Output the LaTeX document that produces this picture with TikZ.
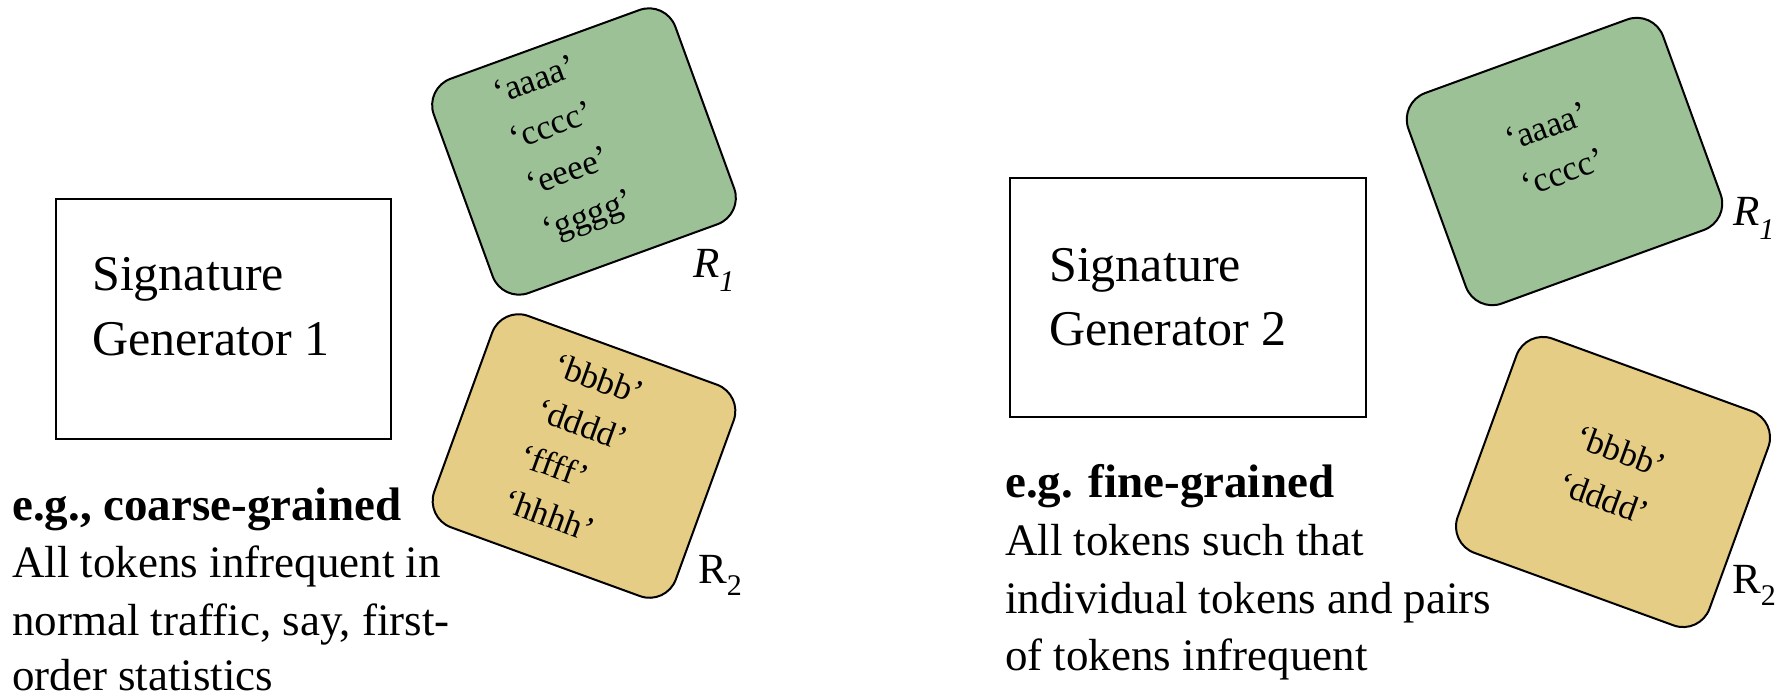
\documentclass[tikz,border=0pt]{standalone}
\usepackage{fontspec}
\setmainfont{Liberation Serif}
\definecolor{setgreen}{RGB}{157,193,151}
\definecolor{setyellow}{RGB}{230,205,133}
\begin{document}
\begin{tikzpicture}[x=1pt,y=-1pt,
  genbox/.style={draw=black, line width=2.5pt, inner sep=0},
  setbox/.style={draw=black, line width=2pt, rounded corners=28pt, inner sep=0},
  % multi-line token lists: the base anchor sits on the last line
  tok/.style={anchor=base west, inner sep=0, align=left, font=\fontsize{35}{#1}\selectfont},
  gentxt/.style={anchor=base west, inner sep=0, font=\fontsize{50}{60}\selectfont},
  body/.style={anchor=base west, inner sep=0, font=\fontsize{45}{54}\selectfont},
  bodyb/.style={anchor=base west, inner sep=0, font=\fontsize{47}{54}\selectfont\bfseries},
  rlab/.style={anchor=base west, inner sep=0, font=\fontsize{43}{50}\selectfont}
]
\useasboundingbox (0,0) rectangle (1789,697);

% ---------- left: coarse-grained generator ----------
\node[genbox, minimum width=335pt, minimum height=240pt] (gen1) at (223.5,319) {};
\node[gentxt] (gen1a) at (92,290) {Signature};
\node[gentxt] (gen1b) at (92,355) {Generator 1};

\node[setbox, fill=setgreen, minimum width=257pt, minimum height=228pt, rotate=20] (r1a) at (584,151.5) {};
\node[tok=48.5, rotate=20] (r1at) at (547.8,241.7) {‘aaaa’\\‘cccc’\\‘eeee’\\‘gggg’};
\node[rlab] (lr1a) at (693,277) {\itshape R\raisebox{-14pt}{\fontsize{30}{30}\selectfont 1}};

\node[setbox, fill=setyellow, minimum width=257pt, minimum height=225pt, rotate=-20] (r2a) at (584,456) {};
\node[tok=48.5, rotate=-20] (r2at) at (501.2,510.7) {‘bbbb’\\‘dddd’\\‘ffff’\\‘hhhh’};
\node[rlab] (lr2a) at (698,583) {R\raisebox{-12pt}{\fontsize{30}{30}\selectfont 2}};

\node[bodyb] (d1a) at (12,520) {e.g., coarse-grained};
\node[body] (d1b) at (12,577) {All tokens infrequent in};
\node[body] (d1c) at (12,635) {normal traffic, say, first-};
\node[body] (d1d) at (12,690) {order statistics};

% ---------- right: fine-grained generator ----------
\node[genbox, minimum width=356pt, minimum height=239pt] (gen2) at (1188,297.5) {};
\node[gentxt] (gen2a) at (1049,281) {Signature};
\node[gentxt] (gen2b) at (1049,345) {Generator 2};

\node[setbox, fill=setgreen, minimum width=271pt, minimum height=224pt, rotate=20] (r1b) at (1564.5,161.5) {};
\node[tok=48.5, rotate=20] (r1bt) at (1526.6,197.6) {‘aaaa’\\‘cccc’};
\node[rlab] (lr1b) at (1733,225) {\itshape R\raisebox{-14pt}{\fontsize{30}{30}\selectfont 1}};

\node[setbox, fill=setyellow, minimum width=268pt, minimum height=228pt, rotate=-20] (r2b) at (1613,482) {};
\node[tok=50, rotate=-20] (r2bt) at (1555.9,493) {‘bbbb’\\‘dddd’};
\node[rlab] (lr2b) at (1732,593) {R\raisebox{-12pt}{\fontsize{30}{30}\selectfont 2}};

\node[bodyb] (d2a) at (1005,497) {e.g. fine-grained};
\node[body] (d2b) at (1005,555) {All tokens such that};
\node[body] (d2c) at (1005,613) {individual tokens and pairs};
\node[body] (d2d) at (1005,670) {of tokens infrequent};
\end{tikzpicture}
\end{document}
